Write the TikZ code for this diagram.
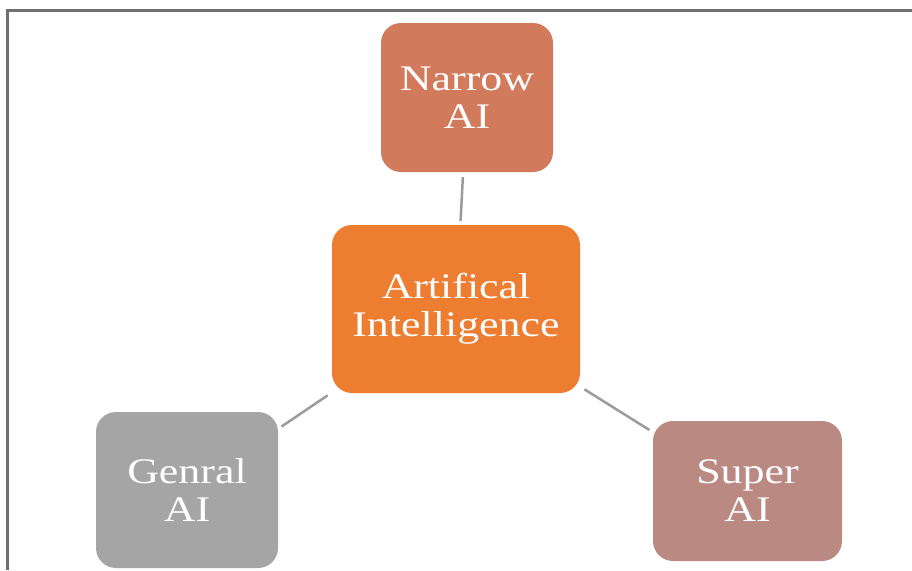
\documentclass[tikz,border=0pt]{standalone}
\usepackage{fontspec}
\setmainfont{Liberation Serif}
\usepackage{graphicx}
\newcommand\widetext[1]{\scalebox{1.22}[1]{#1}}
\definecolor{narrowc}{RGB}{209,123,92}
\definecolor{centerc}{RGB}{237,125,49}
\definecolor{generalc}{RGB}{165,165,165}
\definecolor{superc}{RGB}{185,137,130}
\definecolor{linkc}{RGB}{155,155,155}
\definecolor{framec}{RGB}{110,110,110}
\begin{document}
\begin{tikzpicture}[x=1pt,y=-1pt,
  aibox/.style={rounded corners=20pt, inner sep=0pt, align=center,
    text=white, font=\fontsize{36}{38}\selectfont},
  link/.style={draw=linkc, line width=2.5pt, shorten <=5pt, shorten >=4pt}]
  \fill[white] (0,0) rectangle (912,570);
  \useasboundingbox (0,0) rectangle (912,570);
  % frame lines along the top and left edges
  \draw[framec, line width=2.4pt] (7.5,570) -- (7.5,10.5) -- (912,10.5);

  \node[aibox, fill=narrowc, minimum width=172pt, minimum height=149pt]
    (narrow) at (467,97.5) {\widetext{Narrow}\\\widetext{AI}};
  \node[aibox, fill=centerc, minimum width=248pt, minimum height=168pt]
    (ai) at (456,309) {\widetext{Artifical}\\\widetext{Intelligence}};
  \node[aibox, fill=generalc, minimum width=182pt, minimum height=156pt]
    (general) at (187,490) {\widetext{Genral}\\\widetext{AI}};
  \node[aibox, fill=superc, minimum width=189pt, minimum height=140pt]
    (super) at (747.5,491) {\widetext{Super}\\\widetext{AI}};

  \draw[link] (narrow) -- (ai);
  \draw[link] (ai) -- (general);
  \draw[link] (ai) -- (super);
\end{tikzpicture}
\end{document}
